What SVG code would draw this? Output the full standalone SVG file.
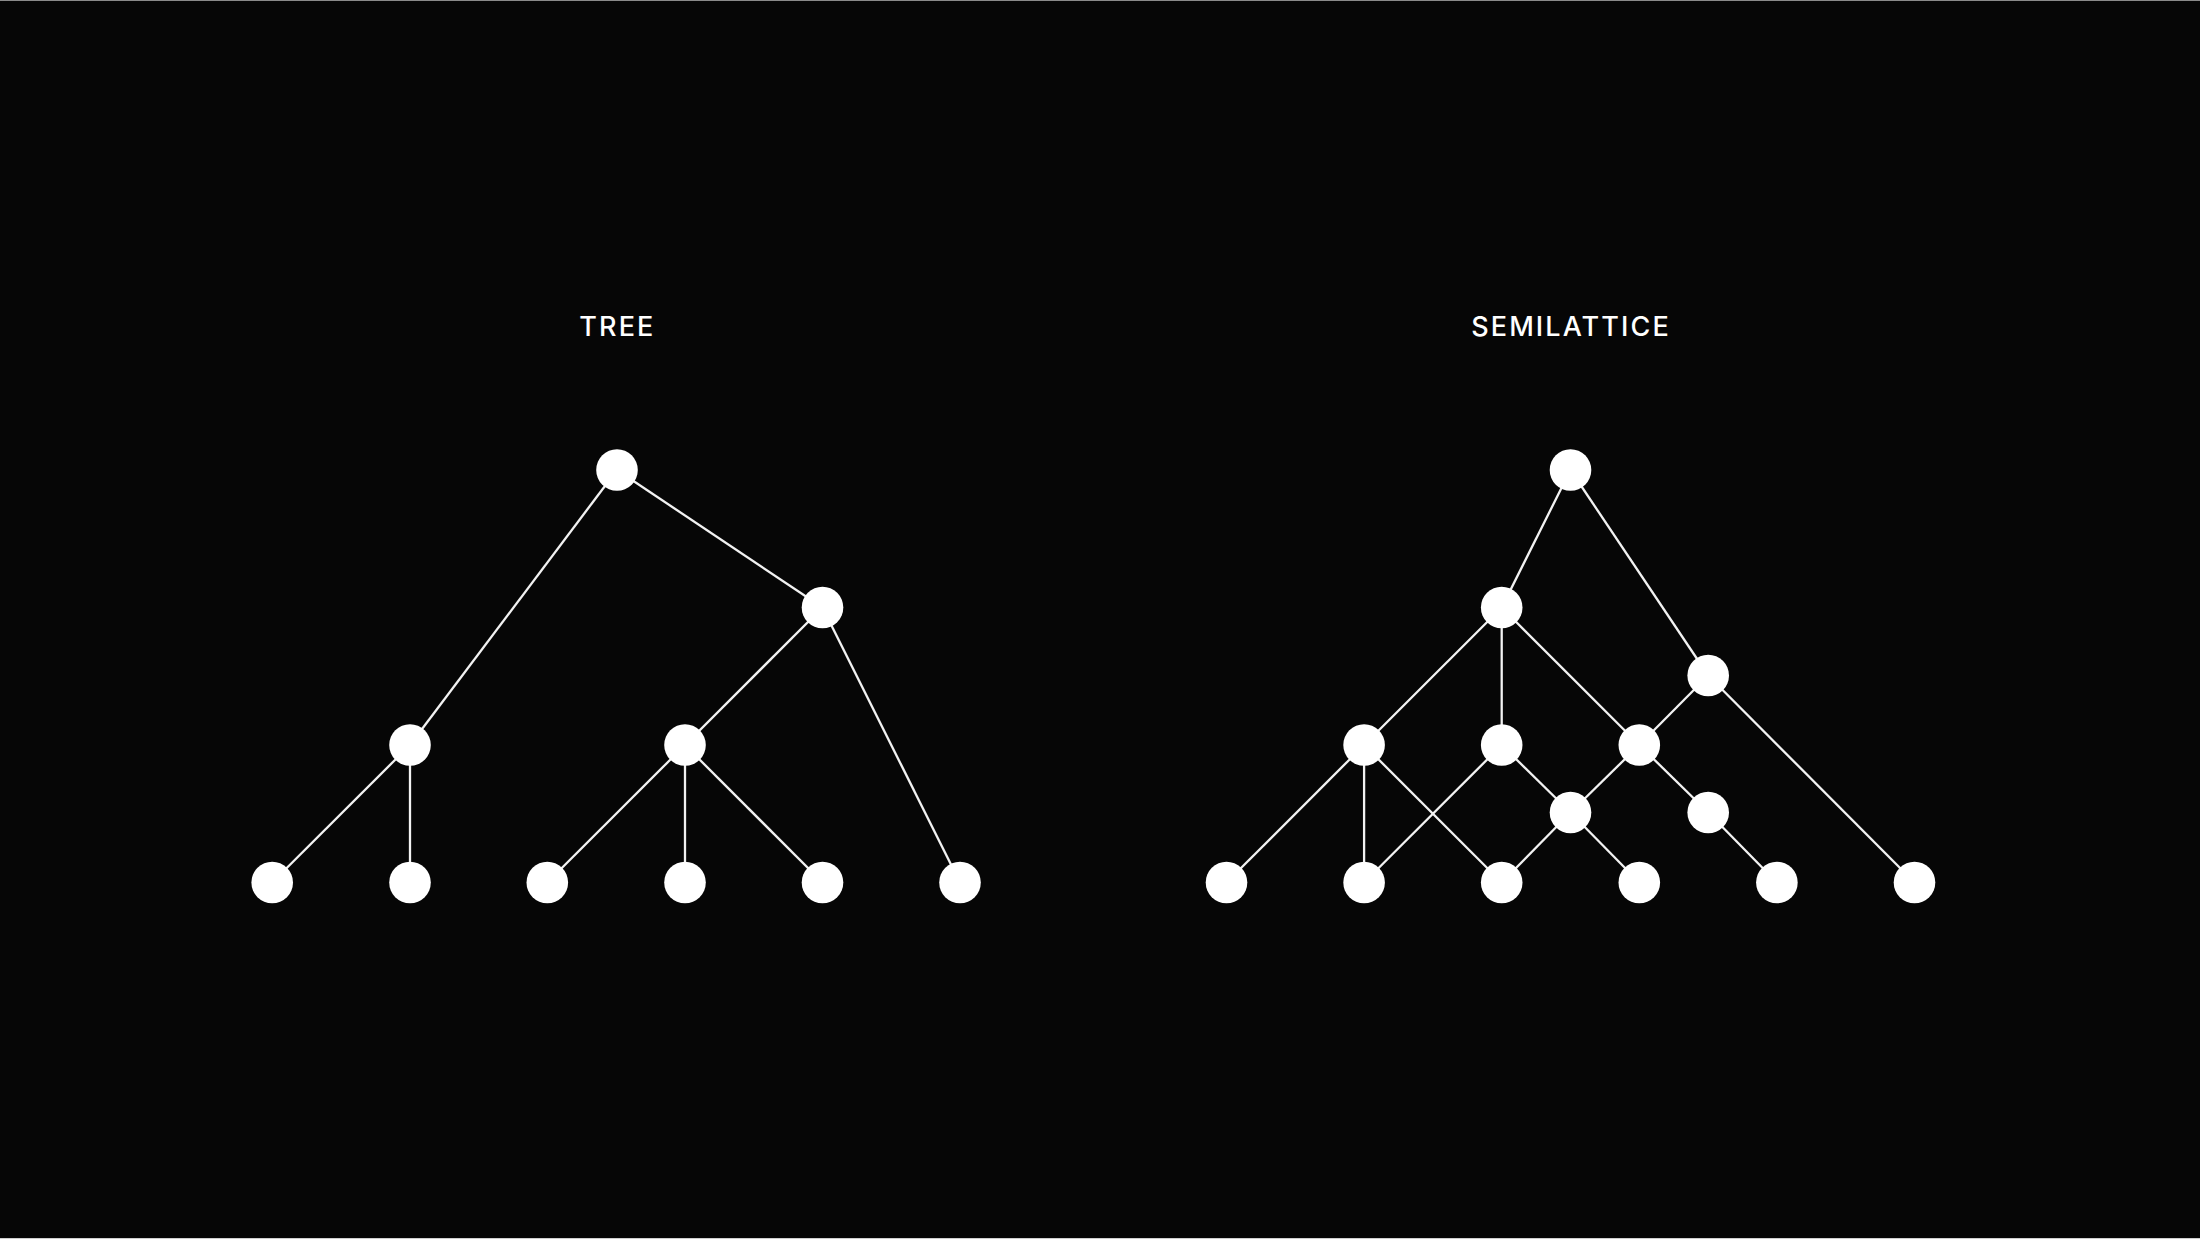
<svg xmlns="http://www.w3.org/2000/svg" width="2200" height="1239" viewBox="0 0 2200 1239">
<style>
.bg{fill:#060606}
.lbl{font-family:Inter,"Liberation Sans",sans-serif;font-size:27px;font-weight:500;fill:#ffffff;letter-spacing:2.1px;text-anchor:middle}
.e line{stroke:#f2f2f2;stroke-width:2.3}
.n{fill:#ffffff}
</style>
<rect class="bg" x="0" y="0" width="2200" height="1239"/>
<rect x="0" y="0" width="2200" height="1" fill="#8a8a8a"/>
<rect x="0" y="1238" width="2200" height="1" fill="#cfcfcf"/>
<text class="lbl" x="617.4" y="336">TREE</text>
<text class="lbl" x="1571" y="336">SEMILATTICE</text>
<g id="connectors" class="e">
<line x1="617" y1="470" x2="410" y2="745"/>
<line x1="617" y1="470" x2="822.5" y2="607.5"/>
<line x1="822.5" y1="607.5" x2="685" y2="745"/>
<line x1="822.5" y1="607.5" x2="960" y2="882.5"/>
<line x1="410" y1="745" x2="272.2" y2="882.5"/>
<line x1="410" y1="745" x2="410" y2="882.5"/>
<line x1="685" y1="745" x2="547.3" y2="882.5"/>
<line x1="685" y1="745" x2="685" y2="882.5"/>
<line x1="685" y1="745" x2="822.5" y2="882.5"/>
<line x1="1570.5" y1="470" x2="1501.7" y2="607.5"/>
<line x1="1570.5" y1="470" x2="1708.2" y2="675.5"/>
<line x1="1501.7" y1="607.5" x2="1364.1" y2="745"/>
<line x1="1501.7" y1="607.5" x2="1501.7" y2="745"/>
<line x1="1501.7" y1="607.5" x2="1639.3" y2="745"/>
<line x1="1708.2" y1="675.5" x2="1639.3" y2="745"/>
<line x1="1708.2" y1="675.5" x2="1914.5" y2="882.5"/>
<line x1="1364.1" y1="745" x2="1226.5" y2="882.5"/>
<line x1="1364.1" y1="745" x2="1364.1" y2="882.5"/>
<line x1="1364.1" y1="745" x2="1501.7" y2="882.5"/>
<line x1="1501.7" y1="745" x2="1364.1" y2="882.5"/>
<line x1="1501.7" y1="745" x2="1570.5" y2="812.5"/>
<line x1="1639.3" y1="745" x2="1570.5" y2="812.5"/>
<line x1="1639.3" y1="745" x2="1708.2" y2="812.5"/>
<line x1="1570.5" y1="812.5" x2="1501.7" y2="882.5"/>
<line x1="1570.5" y1="812.5" x2="1639.3" y2="882.5"/>
<line x1="1708.2" y1="812.5" x2="1776.9" y2="882.5"/>
</g>
<g id="tree-root"><circle class="n" cx="617" cy="470" r="20.8"/></g>
<g id="tree-b"><circle class="n" cx="822.5" cy="607.5" r="20.8"/></g>
<g id="tree-c"><circle class="n" cx="410" cy="745" r="20.8"/></g>
<g id="tree-d"><circle class="n" cx="685" cy="745" r="20.8"/></g>
<g id="tree-l1"><circle class="n" cx="272.2" cy="882.5" r="20.8"/></g>
<g id="tree-l2"><circle class="n" cx="410" cy="882.5" r="20.8"/></g>
<g id="tree-l3"><circle class="n" cx="547.3" cy="882.5" r="20.8"/></g>
<g id="tree-l4"><circle class="n" cx="685" cy="882.5" r="20.8"/></g>
<g id="tree-l5"><circle class="n" cx="822.5" cy="882.5" r="20.8"/></g>
<g id="tree-l6"><circle class="n" cx="960" cy="882.5" r="20.8"/></g>
<g id="semi-root"><circle class="n" cx="1570.5" cy="470" r="20.8"/></g>
<g id="semi-a"><circle class="n" cx="1501.7" cy="607.5" r="20.8"/></g>
<g id="semi-b"><circle class="n" cx="1708.2" cy="675.5" r="20.8"/></g>
<g id="semi-c"><circle class="n" cx="1364.1" cy="745" r="20.8"/></g>
<g id="semi-d"><circle class="n" cx="1501.7" cy="745" r="20.8"/></g>
<g id="semi-e"><circle class="n" cx="1639.3" cy="745" r="20.8"/></g>
<g id="semi-f"><circle class="n" cx="1570.5" cy="812.5" r="20.8"/></g>
<g id="semi-g"><circle class="n" cx="1708.2" cy="812.5" r="20.8"/></g>
<g id="semi-l1"><circle class="n" cx="1226.5" cy="882.5" r="20.8"/></g>
<g id="semi-l2"><circle class="n" cx="1364.1" cy="882.5" r="20.8"/></g>
<g id="semi-l3"><circle class="n" cx="1501.7" cy="882.5" r="20.8"/></g>
<g id="semi-l4"><circle class="n" cx="1639.3" cy="882.5" r="20.8"/></g>
<g id="semi-l5"><circle class="n" cx="1776.9" cy="882.5" r="20.8"/></g>
<g id="semi-l6"><circle class="n" cx="1914.5" cy="882.5" r="20.8"/></g>
</svg>
